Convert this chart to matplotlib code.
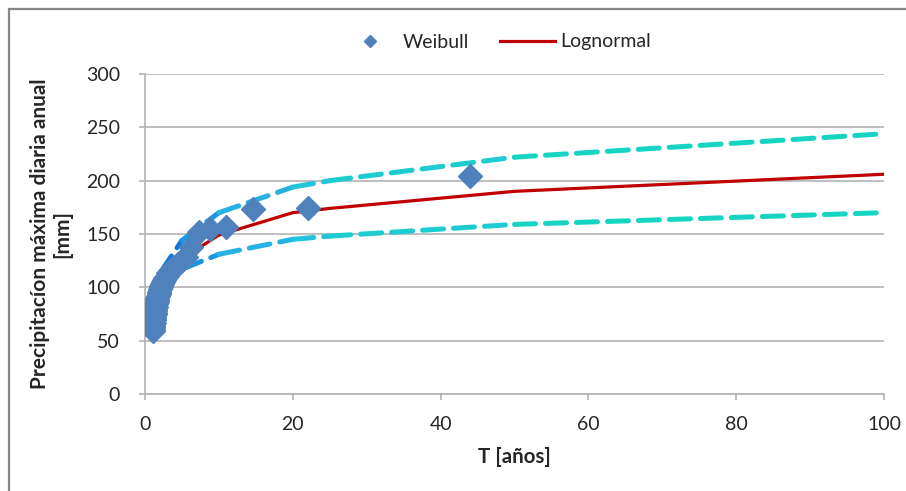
import numpy as np
import matplotlib.pyplot as plt
from matplotlib.patches import Rectangle

plt.rcParams['font.family'] = ['Lato', 'DejaVu Sans']

# Weibull (periodo de retorno, precipitacion)
T_weibull = [44.0, 22.0, 14.67, 11.0, 8.8, 7.33, 6.29, 5.5, 4.89, 4.4,
             4.0, 3.67, 3.38, 3.14, 2.93, 2.75, 2.59, 2.44, 2.32, 2.2,
             2.1, 2.0, 1.91, 1.83, 1.76, 1.69, 1.63, 1.57, 1.52, 1.47,
             1.42, 1.38, 1.33, 1.29, 1.26, 1.22, 1.19, 1.16, 1.13, 1.1,
             1.07, 1.05, 1.02]
P_weibull = [204, 174, 173, 157, 155, 152, 138, 128, 125, 122,
             119, 117, 115, 113, 111, 109, 107, 105, 103, 101,
             100, 98, 96, 94, 92, 90, 88, 86, 84, 82,
             80, 78, 76, 75, 73, 71, 69, 67, 66, 64,
             63, 61, 59]

# Lognormal y bandas de confianza
T_ln = [2, 5, 10, 20, 25, 50, 100]
P_ln = [108, 127, 149, 170, 174, 190, 206]
P_sup = [113, 144, 170, 194, 200, 222, 244]
P_inf = [100, 117, 131, 145, 148, 159, 170]

# colores del degradado de las bandas (por tramo)
band_cols = ['#1478d8', '#1c96e0', '#26b2e2', '#22c4dc', '#1cccd0', '#16d4c2']

fig = plt.figure(figsize=(9.06, 4.91), dpi=100)
ax = fig.add_axes([145/906, 1-394/491, (884-145)/906, (394-74)/491])

for P in (P_sup, P_inf):
    for i in range(len(T_ln)-1):
        ax.plot(T_ln[i:i+2], P[i:i+2], color=band_cols[i], lw=3.6,
                dashes=(4.2, 2.0), solid_capstyle='round', dash_capstyle='round', zorder=3)

ax.plot(T_ln, P_ln, color='#c00000', lw=2.3, label='Lognormal', zorder=4)
ax.plot(T_weibull, P_weibull, 'D', color='#4f81bd', ms=12, mec='#4f81bd',
        label='Weibull', zorder=5, linestyle='none')

ax.set_xlim(0, 100)
ax.set_ylim(0, 300)
ax.set_xticks(range(0, 101, 20))
ax.set_yticks(range(0, 301, 50))
ax.yaxis.grid(True, color='#b3b3b3', lw=1.2)
ax.set_axisbelow(True)
for s in ('top', 'right'):
    ax.spines[s].set_visible(False)
for s in ('left', 'bottom'):
    ax.spines[s].set_color('#b3b3b3')
    ax.spines[s].set_linewidth(1.2)
ax.tick_params(axis='both', labelsize=14, colors='#b3b3b3', labelcolor='#262626', length=4, width=1.2)
ax.tick_params(axis='y', pad=14)
ax.tick_params(axis='x', pad=12)

ax.set_xlabel('T [años]', fontsize=14.8, fontweight='bold', color='#262626', labelpad=10)
ax.set_ylabel('Precipitacíon máxima diaria anual\n[mm]', fontsize=15, fontweight='bold',
              color='#262626', labelpad=10, linespacing=1.1)

h, l = ax.get_legend_handles_labels()
leg = fig.legend(h[::-1], l[::-1], loc='center', bbox_to_anchor=(497/906, 1-42/491), ncol=2,
                 frameon=False, fontsize=14, markerscale=0.55, handlelength=2.8,
                 columnspacing=1.6, handletextpad=0.3)
for t in leg.get_texts():
    t.set_color('#262626')

fig.patches.append(Rectangle((8.5/906, -0.1), 1.2, 1.1 - 9.5/491, transform=fig.transFigure,
                             fill=False, edgecolor='#868686', lw=1.6))

fig.savefig('out.png', dpi=100)
